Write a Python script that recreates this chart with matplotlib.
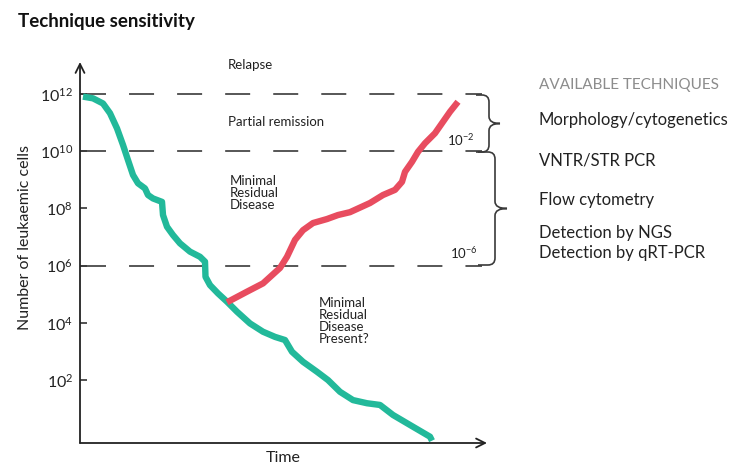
import numpy as np
import matplotlib.pyplot as plt
from matplotlib.path import Path
from matplotlib.patches import PathPatch

plt.rcParams['font.family'] = ['Lato', 'DejaVu Sans']
plt.rcParams['mathtext.default'] = 'regular'
plt.rcParams['lines.scale_dashes'] = False

# time (arbitrary units) and log10(number of leukaemic cells)
remission_t = [3, 13, 23, 30, 37, 43, 48, 53, 58, 65, 68, 73, 82, 83, 87, 93, 100,
               110, 120, 125, 125.5, 130, 138, 147, 157, 170, 183, 195, 205, 212,
               223, 237, 248, 260, 273, 287, 300, 313, 330, 350, 352]
remission_log = [11.91, 11.85, 11.67, 11.33, 10.80, 10.22, 9.69, 9.17, 8.88, 8.70,
                 8.47, 8.35, 8.23, 7.77, 7.36, 7.07, 6.78, 6.49, 6.31, 6.14, 5.61,
                 5.32, 5.03, 4.74, 4.39, 3.98, 3.69, 3.51, 3.40, 2.99, 2.64, 2.29,
                 2.00, 1.59, 1.30, 1.19, 1.13, 0.78, 0.43, 0.02, -0.12]
relapse_t = [147, 167, 183, 200, 207, 215, 223, 233, 247, 258, 270, 290, 303, 315,
             322, 325, 332, 338, 345, 355, 362, 370, 378]
relapse_log = [4.72, 5.09, 5.38, 5.92, 6.31, 6.90, 7.24, 7.49, 7.63, 7.77, 7.87, 8.19,
               8.47, 8.65, 8.93, 9.28, 9.63, 9.98, 10.28, 10.63, 10.98, 11.38, 11.73]
threshold_log = [12, 10, 6]
tick_log = [2, 4, 6, 8, 10, 12]
techniques = ["Morphology/cytogenetics", "VNTR/STR PCR", "Flow cytometry",
              "Detection by NGS", "Detection by qRT-PCR"]
technique_y = [120, 160, 200, 233, 253]

W, H = 732, 465
fig = plt.figure(figsize=(W / 100, H / 100), dpi=100)

# main axes, placed on the pixel box of the reference
ax = fig.add_axes([80 / W, (H - 443) / H, 407 / W, 381 / H])
ax.set_yscale('log')
ax.set_xlim(0, 407)
ax.set_ylim(10 ** -0.2, 10 ** 13.12)

green = '#22b99a'
red = '#e84c5f'
ax.plot(remission_t, 10 ** np.array(remission_log), color=green, lw=4.6,
        solid_joinstyle='round', solid_capstyle='butt', zorder=3)
ax.plot(relapse_t, 10 ** np.array(relapse_log), color=red, lw=4.6,
        solid_joinstyle='round', solid_capstyle='butt', zorder=4)

ax.hlines(10.0 ** np.array(threshold_log), 1, 402, colors='#3a3a3a', lw=1.2,
          linestyles=(0, (18, 16.6)), clip_on=False, zorder=2)

for s in ax.spines.values():
    s.set_visible(False)
ax.annotate('', xy=(0, 1), xytext=(0, 0), xycoords='axes fraction',
            arrowprops=dict(arrowstyle='->', lw=1.3, color='#222', mutation_scale=16,
                            shrinkA=0, shrinkB=0))
ax.annotate('', xy=(1, 0), xytext=(0, 0), xycoords='axes fraction',
            arrowprops=dict(arrowstyle='->', lw=1.3, color='#222', mutation_scale=16,
                            shrinkA=0, shrinkB=0))

ax.set_xticks([])
ax.set_yticks(10.0 ** np.array(tick_log))
ax.set_yticklabels(['$10^{%d}$' % v for v in tick_log])
ax.yaxis.set_minor_locator(plt.NullLocator())
ax.tick_params(axis='y', direction='in', length=5, width=1.1, color='#222',
               labelsize=11.5, pad=5, labelcolor='#222')

# overlay in pixel coordinates for labels and braces
ov = fig.add_axes([0, 0, 1, 1], zorder=5)
ov.set_xlim(0, W)
ov.set_ylim(H, 0)
ov.axis('off')

ov.text(18, 22, "Technique sensitivity", fontsize=13.5, fontweight='bold',
        va='center', ha='left', color='#111')
ov.text(25, 237, "Number of leukaemic cells", rotation=90, fontsize=11.5,
        va='center', ha='center', color='#222')
ov.text(283, 451, "Time", fontsize=11.5, va='top', ha='center', color='#222')

lab = dict(fontsize=9.5, color='#222', ha='left', va='center', linespacing=1.0)
ov.text(228, 65, "Relapse", **lab)
ov.text(228, 122, "Partial remission", **lab)
ov.text(230, 193, "Minimal\nResidual\nDisease", **lab)
ov.text(319, 321, "Minimal\nResidual\nDisease\nPresent?", **lab)
ov.text(447, 140, "$10^{-2}$", **lab)
ov.text(450, 253, "$10^{-6}$", **lab)

ov.text(539, 85, "AVAILABLE TECHNIQUES", fontsize=11, color='#8c8c8c',
        ha='left', va='center')
for name, yy in zip(techniques, technique_y):
    ov.text(539, yy, name, fontsize=12, color='#222', ha='left', va='center')


def brace(x0, xv, xt, ytop, ybot, r=7):
    ym = (ytop + ybot) / 2
    verts = [(x0, ytop), (xv - r, ytop), (xv, ytop), (xv, ytop + r),
             (xv, ym - r), (xv, ym), (xt, ym),
             (xv, ym), (xv, ym + r),
             (xv, ybot - r), (xv, ybot), (xv - r, ybot), (x0, ybot)]
    codes = [Path.MOVETO, Path.LINETO, Path.CURVE3, Path.CURVE3,
             Path.LINETO, Path.CURVE3, Path.CURVE3,
             Path.CURVE3, Path.CURVE3,
             Path.LINETO, Path.CURVE3, Path.CURVE3, Path.LINETO]
    ov.add_patch(PathPatch(Path(verts, codes), fill=False, lw=1.2,
                           edgecolor='#3a3a3a', capstyle='butt'))


brace(476, 489, 500, 95, 152)
brace(478, 495, 507, 152, 265)

fig.savefig('out.png', dpi=100)
